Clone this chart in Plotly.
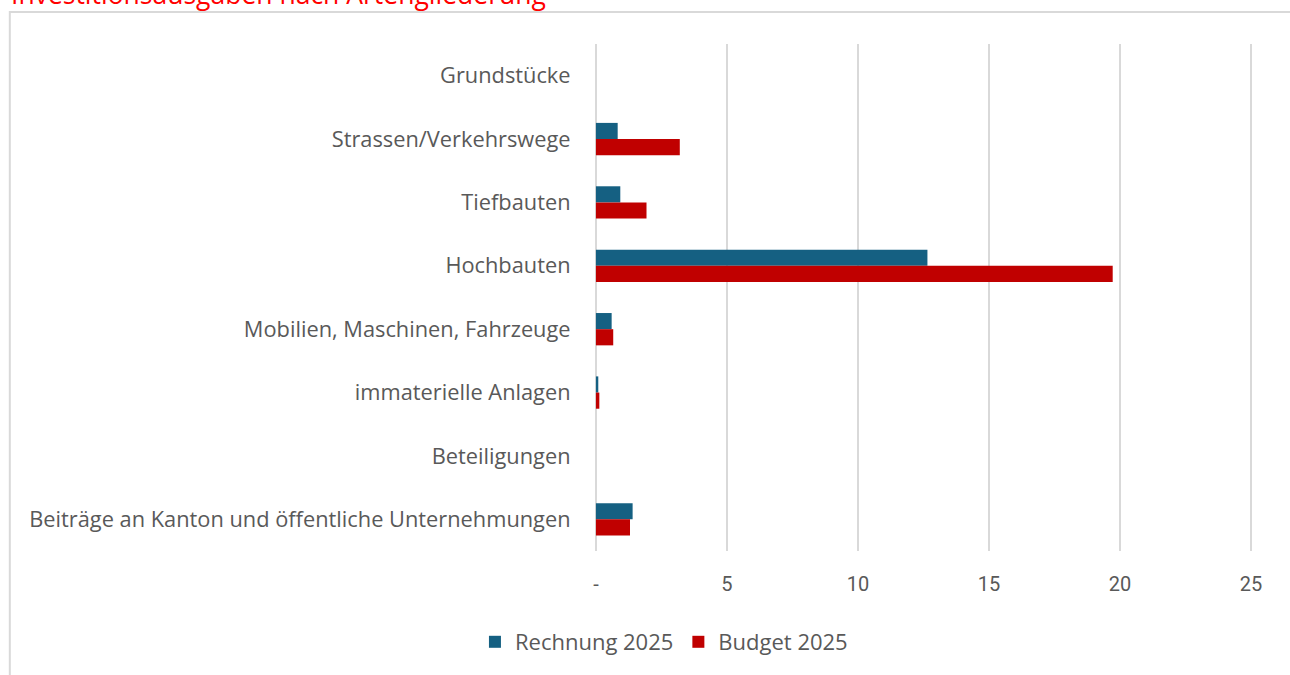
import plotly.graph_objects as go

categories = [
    "Grundstücke",
    "Strassen/Verkehrswege",
    "Tiefbauten",
    "Hochbauten",
    "Mobilien, Maschinen, Fahrzeuge",
    "immaterielle Anlagen",
    "Beteiligungen",
    "Beiträge an Kanton und öffentliche Unternehmungen",
]
rechnung_2025 = [0, 0.83, 0.93, 12.65, 0.6, 0.09, 0, 1.40]
budget_2025 = [0, 3.2, 1.93, 19.72, 0.66, 0.13, 0, 1.30]

tick_vals = [0, 5, 10, 15, 20, 25]
tick_text = ["-", "5", "10", "15", "20", "25"]

BLUE = "#156082"
RED = "#C00000"
GRID = "#D9D9D9"
LABEL = "#595959"
FONT = "Open Sans, Lato, sans-serif"

fig = go.Figure()
fig.add_trace(go.Bar(
    y=categories, x=rechnung_2025, orientation="h", name="Rechnung 2025",
    marker=dict(color=BLUE, line=dict(width=0)),
))
fig.add_trace(go.Bar(
    y=categories, x=budget_2025, orientation="h", name="Budget 2025",
    marker=dict(color=RED, line=dict(width=0)),
))

W, H = 1290, 675
# value 0 sits at x=596 and 25 at x=1251; plot rows span y 44..551
UNIT = (1251 - 596) / 25
XMIN, XMAX = -0.15, 25.15
PX0 = 596 + XMIN * UNIT
PX1 = 596 + XMAX * UNIT
PY0, PY1 = 44, 551


def px(x):
    return (x - PX0) / (PX1 - PX0)


def py(y):
    return (PY1 - y) / (PY1 - PY0)


fig.update_layout(
    width=W, height=H,
    margin=dict(l=PX0, r=W - PX1, t=PY0, b=H - PY1, autoexpand=False),
    paper_bgcolor="white", plot_bgcolor="white",
    barmode="group", bargap=0.49, bargroupgap=0,
    font=dict(family=FONT, color=LABEL, size=19),
    xaxis=dict(
        range=[XMIN, XMAX], tickvals=tick_vals, ticktext=tick_text,
        showgrid=True, gridcolor=GRID, gridwidth=2,
        zeroline=False, showline=False,
        ticks="outside", ticklen=15, tickcolor="rgba(0,0,0,0)",
        tickfont=dict(family="Liberation Sans Narrow, Roboto, sans-serif", size=20, color=LABEL),
        fixedrange=True,
    ),
    yaxis=dict(
        autorange="reversed", showgrid=False, zeroline=False, showline=False,
        ticks="outside", ticklen=20 - 0.15 * UNIT, tickcolor="rgba(0,0,0,0)",
        tickfont=dict(family=FONT, size=21.8, color=LABEL),
        fixedrange=True,
    ),
    legend=dict(
        orientation="h", x=px(664), xanchor="center",
        y=py(642), yanchor="middle",
        font=dict(family=FONT, size=22, color=LABEL),
        itemwidth=30, traceorder="normal",
    ),
    annotations=[dict(
        text="Investitionsausgaben nach Artengliederung",
        font=dict(family=FONT, color="#FF0000", size=26.5),
        xref="paper", yref="paper", x=px(9), y=py(-6),
        xanchor="left", yanchor="middle", showarrow=False,
    )],
    shapes=[dict(
        type="rect", xref="paper", yref="paper",
        x0=px(10), x1=px(1300), y0=py(690), y1=py(12),
        line=dict(color=GRID, width=2), fillcolor="rgba(0,0,0,0)", layer="below",
    )],
)

fig.write_html(
    "out.html",
    config={"displayModeBar": False},
    post_script="document.body.style.margin='0';",
)
